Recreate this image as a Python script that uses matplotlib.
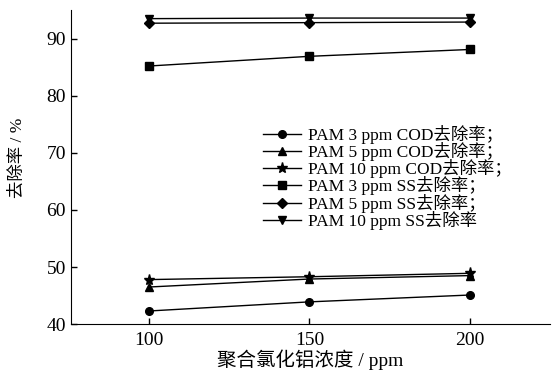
import numpy as np
import matplotlib.pyplot as plt

plt.rcParams['font.family'] = ['Liberation Serif', 'Noto Sans CJK SC']

# 聚合氯化铝浓度 / ppm
PAC = [100, 150, 200]

# 去除率 / %
COD_PAM3 = [42.3, 43.9, 45.1]
COD_PAM5 = [46.5, 47.9, 48.5]
COD_PAM10 = [47.8, 48.3, 48.9]
SS_PAM3 = [85.2, 86.9, 88.1]
SS_PAM5 = [92.7, 92.8, 92.9]
SS_PAM10 = [93.5, 93.6, 93.6]

series = [
    (COD_PAM3, 'o', 'PAM 3 ppm COD去除率；'),
    (COD_PAM5, '^', 'PAM 5 ppm COD去除率；'),
    (COD_PAM10, '*', 'PAM 10 ppm COD去除率；'),
    (SS_PAM3, 's', 'PAM 3 ppm SS去除率；'),
    (SS_PAM5, 'D', 'PAM 5 ppm SS去除率；'),
    (SS_PAM10, 'v', 'PAM 10 ppm SS去除率'),
]

fig = plt.figure(figsize=(5.53, 3.73), dpi=100)
ax = fig.add_axes([0.128, 0.131, 0.867, 0.842])

for vals, m, lab in series:
    ms = 8 if m == '*' else 5.5
    if m == 'D':
        ms = 5
    ax.plot(PAC, vals, color='black', marker=m, markersize=ms, linewidth=1.0, label=lab)

ax.set_xlim(75.7, 225)
ax.set_ylim(40, 95)
ax.set_xticks([100, 150, 200])
ax.set_yticks([40, 50, 60, 70, 80, 90])
ax.spines['top'].set_visible(False)
ax.spines['right'].set_visible(False)
ax.tick_params(direction='in', length=4, labelsize=14, width=1)
ax.tick_params(axis='x', pad=6)

ax.set_xlabel('聚合氯化铝浓度 / ppm', fontsize=14, labelpad=0)
ax.set_ylabel('去除率 / %', fontsize=12.5)
ax.yaxis.set_label_coords(-0.094, 0.53)

ax.legend(loc='upper left', bbox_to_anchor=(0.4, 0.635), frameon=False, fontsize=12.5,
          labelspacing=-0.1, handlelength=2.2, handletextpad=0.4, borderpad=0, borderaxespad=0)

fig.savefig('out.png', dpi=100)
